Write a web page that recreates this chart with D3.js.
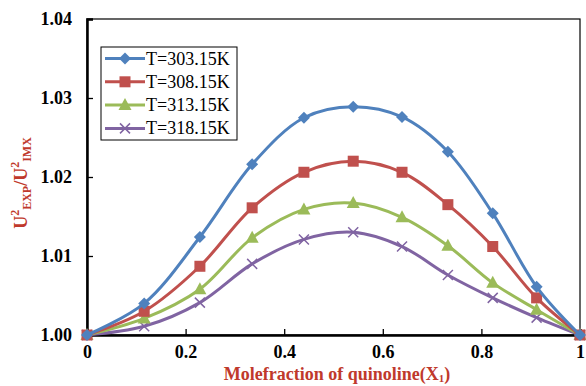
<!DOCTYPE html>
<html lang="en">
<head>
    <meta charset="UTF-8">
    <title>Ultrasonic velocity ratio vs mole fraction</title>
    <script src="https://d3js.org/d3.v7.min.js"></script>
    <style>
        body { margin: 0; padding: 0; background: #fff; }
        svg text { font-family: "Liberation Serif", "Times New Roman", serif; }
        .tick-label { font-weight: bold; font-size: 18px; fill: #000; }
        .axis-title { font-weight: bold; font-size: 18px; fill: #c0392b; }
        .legend-text { font-size: 18px; fill: #000; }
    </style>
</head>
<body>
<div id="chart"></div>
<script>
    // mole fraction of quinoline
    const xValues = [0, 0.116, 0.229, 0.335, 0.440, 0.540, 0.639, 0.732, 0.823, 0.912, 1];

    const t303 = [1.0000, 1.0040, 1.0124, 1.0216, 1.0275, 1.0289, 1.0276, 1.0232, 1.0154, 1.0061, 1.0000];
    const t308 = [1.0000, 1.0030, 1.0087, 1.0161, 1.0206, 1.0220, 1.0206, 1.0165, 1.0112, 1.0047, 1.0000];
    const t313 = [1.0000, 1.0021, 1.0058, 1.0123, 1.0159, 1.0167, 1.0149, 1.0113, 1.0066, 1.0032, 1.0000];
    const t318 = [1.0000, 1.0011, 1.0041, 1.0090, 1.0121, 1.0130, 1.0112, 1.0076, 1.0047, 1.0022, 1.0000];

    const seriesNames = ["T=303.15K", "T=308.15K", "T=313.15K", "T=318.15K"];
    const xTicks = [0, 0.2, 0.4, 0.6, 0.8, 1];
    const yTicks = [1.00, 1.01, 1.02, 1.03, 1.04];

    const series = [
        {name: seriesNames[0], values: t303, color: "#4f81bd", marker: "diamond"},
        {name: seriesNames[1], values: t308, color: "#c0504d", marker: "square"},
        {name: seriesNames[2], values: t313, color: "#9bbb59", marker: "triangle"},
        {name: seriesNames[3], values: t318, color: "#8064a2", marker: "cross"}
    ];

    const W = 586, H = 386;
    const margin = {top: 19, right: 6, bottom: 51, left: 87};
    const width = W - margin.left - margin.right;
    const height = H - margin.top - margin.bottom;

    const svg = d3.select("#chart").append("svg")
        .attr("width", W)
        .attr("height", H);

    const g = svg.append("g")
        .attr("transform", `translate(${margin.left},${margin.top})`);

    const x = d3.scaleLinear().domain([0, 1]).range([0, width]);
    const y = d3.scaleLinear().domain([1.00, 1.04]).range([height, 0]);

    // plot area border
    g.append("rect")
        .attr("width", width).attr("height", height)
        .attr("fill", "none").attr("stroke", "#000").attr("stroke-width", 1.2);

    // axes with ticks pointing inward
    const xAxis = g.append("g")
        .attr("transform", `translate(0,${height})`)
        .call(d3.axisBottom(x).tickValues(xTicks).tickSize(-6).tickPadding(10)
            .tickFormat(d => d === 0 ? "0" : d === 1 ? "1" : d3.format(".1f")(d)));
    const yAxis = g.append("g")
        .call(d3.axisLeft(y).tickValues(yTicks).tickSize(-6).tickPadding(15)
            .tickFormat(d3.format(".2f")));

    [xAxis, yAxis].forEach(a => {
        a.select(".domain").attr("stroke", "#000").attr("stroke-width", 2.5);
        a.selectAll(".tick line").attr("stroke", "#000").attr("stroke-width", 1.3);
        a.selectAll(".tick text").attr("class", "tick-label").attr("font-size", null).attr("font-family", null);
    });

    const line = d3.line()
        .x((d, i) => x(xValues[i]))
        .y(d => y(d))
        .curve(d3.curveCatmullRom.alpha(0.5));

    function drawMarker(sel, type, color, px, py) {
        if (type === "diamond") {
            sel.append("path")
                .attr("d", `M${px},${py - 6}L${px + 6},${py}L${px},${py + 6}L${px - 6},${py}Z`)
                .attr("fill", color);
        } else if (type === "square") {
            sel.append("rect")
                .attr("x", px - 5.5).attr("y", py - 5.5)
                .attr("width", 11).attr("height", 11)
                .attr("fill", color);
        } else if (type === "triangle") {
            sel.append("path")
                .attr("d", `M${px},${py - 7}L${px + 6.5},${py + 5}L${px - 6.5},${py + 5}Z`)
                .attr("fill", color);
        } else {
            sel.append("path")
                .attr("d", `M${px - 5},${py - 5}L${px + 5},${py + 5}M${px - 5},${py + 5}L${px + 5},${py - 5}`)
                .attr("stroke", color).attr("stroke-width", 1.5).attr("fill", "none");
        }
    }

    // draw bottom series first so blue sits on top
    series.slice().reverse().forEach(s => {
        g.append("path")
            .datum(s.values)
            .attr("fill", "none")
            .attr("stroke", s.color)
            .attr("stroke-width", 3)
            .attr("d", line);
        const mg = g.append("g");
        s.values.forEach((v, i) => drawMarker(mg, s.marker, s.color, x(xValues[i]), y(v)));
    });

    // legend
    const legend = svg.append("g").attr("transform", "translate(101,47)");
    legend.append("rect")
        .attr("width", 136).attr("height", 93)
        .attr("fill", "#fff").attr("stroke", "#000").attr("stroke-width", 1);
    series.forEach((s, i) => {
        const ly = 11.5 + i * 23.3;
        legend.append("line")
            .attr("x1", 4).attr("x2", 44).attr("y1", ly).attr("y2", ly)
            .attr("stroke", s.color).attr("stroke-width", 3);
        drawMarker(legend, s.marker, s.color, 24, ly);
        legend.append("text")
            .attr("class", "legend-text")
            .attr("x", 45).attr("y", ly + 6)
            .text(s.name);
    });

    // axis titles
    const xt = svg.append("text")
        .attr("class", "axis-title")
        .attr("x", 337).attr("y", 380)
        .attr("text-anchor", "middle");
    xt.append("tspan").text("Molefraction of quinoline(X");
    xt.append("tspan").attr("font-size", "11px").attr("dy", 2).text("1");
    xt.append("tspan").attr("dy", -2).text(")");

    const yt = svg.append("text")
        .attr("class", "axis-title")
        .attr("transform", "translate(27,183) rotate(-90)")
        .attr("text-anchor", "middle");
    yt.append("tspan").text("U");
    yt.append("tspan").attr("font-size", "12px").attr("dy", -8).text("2");
    yt.append("tspan").attr("font-size", "12px").attr("dy", 12).text("EXP");
    yt.append("tspan").attr("dy", -4).text("/U");
    yt.append("tspan").attr("font-size", "12px").attr("dy", -8).text("2");
    yt.append("tspan").attr("font-size", "12px").attr("dy", 12).text("IMX");
</script>
</body>
</html>
